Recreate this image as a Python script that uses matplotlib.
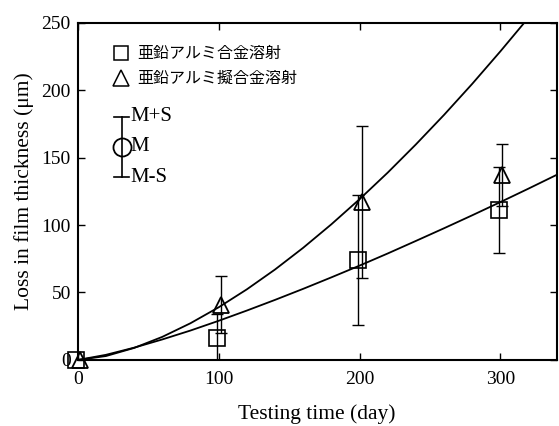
import matplotlib
matplotlib.use("Agg")
import matplotlib.pyplot as plt
from matplotlib.transforms import offset_copy

plt.rcParams['font.family'] = ['Liberation Serif', 'Noto Sans CJK JP', 'DejaVu Sans']

# Measured data (mean and standard deviation)
days = [0, 100, 200, 300]
alloy_mean = [0, 16, 74, 111]
alloy_sd = [0, 18, 48, 32]
pseudo_mean = [0, 41, 117, 137]
pseudo_sd = [0, 21, 56, 23]

# Fitted curves
curve_days = [0, 20, 40, 60, 80, 100, 120, 140, 160, 180, 200, 220, 240, 260, 280, 300, 320, 340]
alloy_curve = [0, 3.8, 9.1, 15.2, 21.8, 29.0, 36.6, 44.5, 52.7, 61.2, 69.9, 78.9, 88.2, 97.6, 107.2, 117.0, 127.0, 137.2]
pseudo_curve = [0, 2.9, 8.9, 17.1, 27.2, 39.0, 52.3, 67.0, 83.1, 100.5, 119.1, 138.8, 159.7, 181.6, 204.6, 228.7, 253.7, 279.7]

legend_labels = ['亜鉛アルミ合金溶射', '亜鉛アルミ擬合金溶射']
x_ticks = [0, 100, 200, 300]
y_ticks = [0, 50, 100, 150, 200, 250]

fig = plt.figure(figsize=(5.59, 4.26), dpi=100)
ax = fig.add_axes([0.139, 0.155, 0.857, 0.792])

ax.plot(curve_days, alloy_curve, color='black', lw=1.3)
ax.plot(curve_days, pseudo_curve, color='black', lw=1.3)

tr_sq = offset_copy(ax.transData, fig=fig, x=-1.5, y=0, units='dots')
tr_tr = offset_copy(ax.transData, fig=fig, x=2.0, y=0, units='dots')

ax.errorbar(days, alloy_mean, yerr=alloy_sd, fmt='none', ecolor='black',
            elinewidth=1.0, capsize=4, capthick=1.0, transform=tr_sq)
ax.errorbar(days, pseudo_mean, yerr=pseudo_sd, fmt='none', ecolor='black',
            elinewidth=1.0, capsize=4, capthick=1.0, transform=tr_tr)
ax.plot(days, alloy_mean, linestyle='none', marker='s', markersize=11,
        markerfacecolor='none', markeredgecolor='black', markeredgewidth=1.2,
        transform=tr_sq, clip_on=False, zorder=5)
ax.plot(days, pseudo_mean, linestyle='none', marker='^', markersize=12,
        markerfacecolor='none', markeredgecolor='black', markeredgewidth=1.3,
        transform=tr_tr, clip_on=False, zorder=5)

ax.set_xlim(0, 340)
ax.set_ylim(0, 250)
ax.set_xticks(x_ticks)
ax.set_yticks(y_ticks)
ax.tick_params(direction='in', length=5, width=1.0, top=True, right=True,
               labelsize=14)
ax.tick_params(axis='x', pad=8)
ax.tick_params(axis='y', pad=5)
for s in ax.spines.values():
    s.set_linewidth(1.5)

ax.set_xlabel('Testing time (day)', fontsize=15.5, labelpad=12)
ax.set_ylabel('Loss in film thickness (μm)', fontsize=15.5, labelpad=5)

# Legend drawn by hand
ax.plot([0.090], [0.909], transform=ax.transAxes, marker='s', markersize=10,
        markerfacecolor='none', markeredgecolor='black', markeredgewidth=1.1, clip_on=False)
ax.plot([0.090], [0.835], transform=ax.transAxes, marker='^', markersize=11,
        markerfacecolor='none', markeredgecolor='black', markeredgewidth=1.1, clip_on=False)
ax.text(0.124, 0.909, legend_labels[0], transform=ax.transAxes, fontsize=11.5,
        va='center', ha='left', family=['Noto Sans CJK JP'])
ax.text(0.124, 0.835, legend_labels[1], transform=ax.transAxes, fontsize=11.5,
        va='center', ha='left', family=['Noto Sans CJK JP'])

# M+S / M / M-S key
kx = 0.092
ax.plot([kx, kx], [0.541, 0.721], transform=ax.transAxes, color='black', lw=1.2)
ax.plot([kx - 0.016, kx + 0.016], [0.721, 0.721], transform=ax.transAxes, color='black', lw=1.2)
ax.plot([kx - 0.016, kx + 0.016], [0.541, 0.541], transform=ax.transAxes, color='black', lw=1.2)
ax.plot([kx], [0.632], transform=ax.transAxes, marker='o', markersize=13,
        markerfacecolor='none', markeredgecolor='black', markeredgewidth=1.3)
ax.text(0.110, 0.721, 'M+S', transform=ax.transAxes, fontsize=15, va='center', ha='left')
ax.text(0.110, 0.632, 'M', transform=ax.transAxes, fontsize=15, va='center', ha='left')
ax.text(0.110, 0.541, 'M-S', transform=ax.transAxes, fontsize=15, va='center', ha='left')

fig.savefig('out.png', dpi=100)
